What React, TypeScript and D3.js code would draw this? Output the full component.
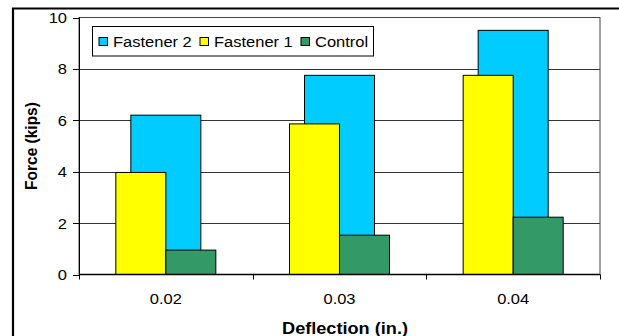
import * as d3 from "d3";
import { useRef, useEffect } from "react";

// chart data
const categories = ["0.02", "0.03", "0.04"];
const fastener2 = [6.2, 7.75, 9.5];
const fastener1 = [3.97, 5.86, 7.75];
const control = [0.95, 1.53, 2.23];
const yTicks = [0, 2, 4, 6, 8, 10];
const seriesNames = ["Fastener 2", "Fastener 1", "Control"];
const seriesColors = ["#00CCFF", "#FFFF00", "#339966"];

export default function App() {
    const ref = useRef<SVGSVGElement>(null);

    const width = 619;
    const height = 336;
    const marginLeft = 79;
    const marginRight = 19;
    const marginTop = 17.5;
    const marginBottom = 61.5;
    const font = "'Liberation Sans', Arial, sans-serif";
    // the original picture was stretched a little sideways
    const stretch = 1.1;

    useEffect(() => {
        const svg = d3.select(ref.current);
        svg.selectAll("*").remove();

        const x = d3.scaleBand()
            .domain(categories)
            .range([marginLeft, width - marginRight]);

        const y = d3.scaleLinear()
            .domain([0, 10])
            .range([height - marginBottom, marginTop]);

        const label = (g, px, py, text, size, anchor, bold = false) =>
            g.append("text")
                .attr("transform", `translate(${px},${py}) scale(${stretch},1)`)
                .attr("text-anchor", anchor)
                .attr("font-family", font)
                .attr("font-size", size)
                .attr("font-weight", bold ? "bold" : "normal")
                .attr("fill", "#000")
                .text(text);

        // outer frame (thick, cut off at right and bottom)
        svg.append("path")
            .attr("d", `M13,${height + 2} V8.5 H${width + 2}`)
            .attr("fill", "none")
            .attr("stroke", "#000")
            .attr("stroke-width", 2.2);

        // plot area box
        svg.append("rect")
            .attr("x", marginLeft)
            .attr("y", marginTop)
            .attr("width", width - marginRight - marginLeft)
            .attr("height", height - marginBottom - marginTop)
            .attr("fill", "#fff")
            .attr("stroke", "#444")
            .attr("stroke-width", 1);

        // gridlines
        svg.append("g")
            .selectAll("line")
            .data(yTicks.filter(t => t > 0 && t < 10))
            .join("line")
                .attr("x1", marginLeft)
                .attr("x2", width - marginRight)
                .attr("y1", d => Math.round(y(d)) + 0.5)
                .attr("y2", d => Math.round(y(d)) + 0.5)
                .attr("stroke", "#333")
                .attr("stroke-width", 1);

        const bw = 50;
        const bwBack = 70;

        // back series: Fastener 2
        svg.append("g")
            .selectAll("rect")
            .data(categories)
            .join("rect")
                .attr("x", (d) => x(d)! + x.bandwidth() / 2 - bwBack / 2)
                .attr("y", (d, i) => y(fastener2[i]))
                .attr("width", bwBack)
                .attr("height", (d, i) => y(0) - y(fastener2[i]))
                .attr("fill", seriesColors[0])
                .attr("stroke", "#000")
                .attr("stroke-width", 1);

        // front series: Fastener 1 (left) and Control (right)
        svg.append("g")
            .selectAll("rect")
            .data(categories)
            .join("rect")
                .attr("x", (d) => x(d)! + x.bandwidth() / 2 - bw)
                .attr("y", (d, i) => y(fastener1[i]))
                .attr("width", bw)
                .attr("height", (d, i) => y(0) - y(fastener1[i]))
                .attr("fill", seriesColors[1])
                .attr("stroke", "#000")
                .attr("stroke-width", 1);

        svg.append("g")
            .selectAll("rect")
            .data(categories)
            .join("rect")
                .attr("x", (d) => x(d)! + x.bandwidth() / 2)
                .attr("y", (d, i) => y(control[i]))
                .attr("width", bw)
                .attr("height", (d, i) => y(0) - y(control[i]))
                .attr("fill", seriesColors[2])
                .attr("stroke", "#000")
                .attr("stroke-width", 1);

        // y axis
        const yAxis = svg.append("g");
        yAxis.append("line")
            .attr("x1", marginLeft + 0.5)
            .attr("x2", marginLeft + 0.5)
            .attr("y1", marginTop)
            .attr("y2", y(0))
            .attr("stroke", "#000");
        yTicks.forEach(t => {
            yAxis.append("line")
                .attr("x1", marginLeft - 6)
                .attr("x2", marginLeft)
                .attr("y1", Math.round(y(t)) + 0.5)
                .attr("y2", Math.round(y(t)) + 0.5)
                .attr("stroke", "#000");
            label(yAxis, marginLeft - 12, y(t) + 5.5, String(t), 15, "end");
        });

        // x axis
        const xAxis = svg.append("g");
        xAxis.append("line")
            .attr("x1", marginLeft)
            .attr("x2", width - marginRight)
            .attr("y1", y(0))
            .attr("y2", y(0))
            .attr("stroke", "#000")
            .attr("stroke-width", 1.3);
        [...categories.map(c => x(c)!), width - marginRight].forEach(px => {
            xAxis.append("line")
                .attr("x1", Math.round(px) + 0.5)
                .attr("x2", Math.round(px) + 0.5)
                .attr("y1", y(0))
                .attr("y2", y(0) + 5)
                .attr("stroke", "#000");
        });
        categories.forEach(c => {
            label(xAxis, x(c)! + x.bandwidth() / 2, 304, c, 15, "middle");
        });

        // axis titles
        label(svg, 345, 333.5, "Deflection (in.)", 16.5, "middle", true);

        svg.append("text")
            .attr("transform", `translate(37,${(marginTop + y(0)) / 2}) rotate(-90) scale(1,${stretch})`)
            .attr("text-anchor", "middle")
            .attr("font-family", font)
            .attr("font-size", 15.5)
            .attr("font-weight", "bold")
            .text("Force (kips)");

        // legend
        const legend = svg.append("g");
        legend.append("rect")
            .attr("x", 92.5)
            .attr("y", 26.5)
            .attr("width", 281)
            .attr("height", 29.5)
            .attr("fill", "#fff")
            .attr("stroke", "#000");
        const itemX = [98.5, 199.5, 300.5];
        seriesNames.forEach((name, i) => {
            legend.append("rect")
                .attr("x", itemX[i] + 0.5)
                .attr("y", 37.5)
                .attr("width", 8.5)
                .attr("height", 8)
                .attr("fill", seriesColors[i])
                .attr("stroke", "#000");
            label(legend, itemX[i] + 14.5, 46.5, name, 15, "start");
        });
    }, []);

    return (
        <svg ref={ref} width={width} height={height}
            style={{ position: "absolute", left: 0, top: 0, background: "#fff" }} />
    );
}
